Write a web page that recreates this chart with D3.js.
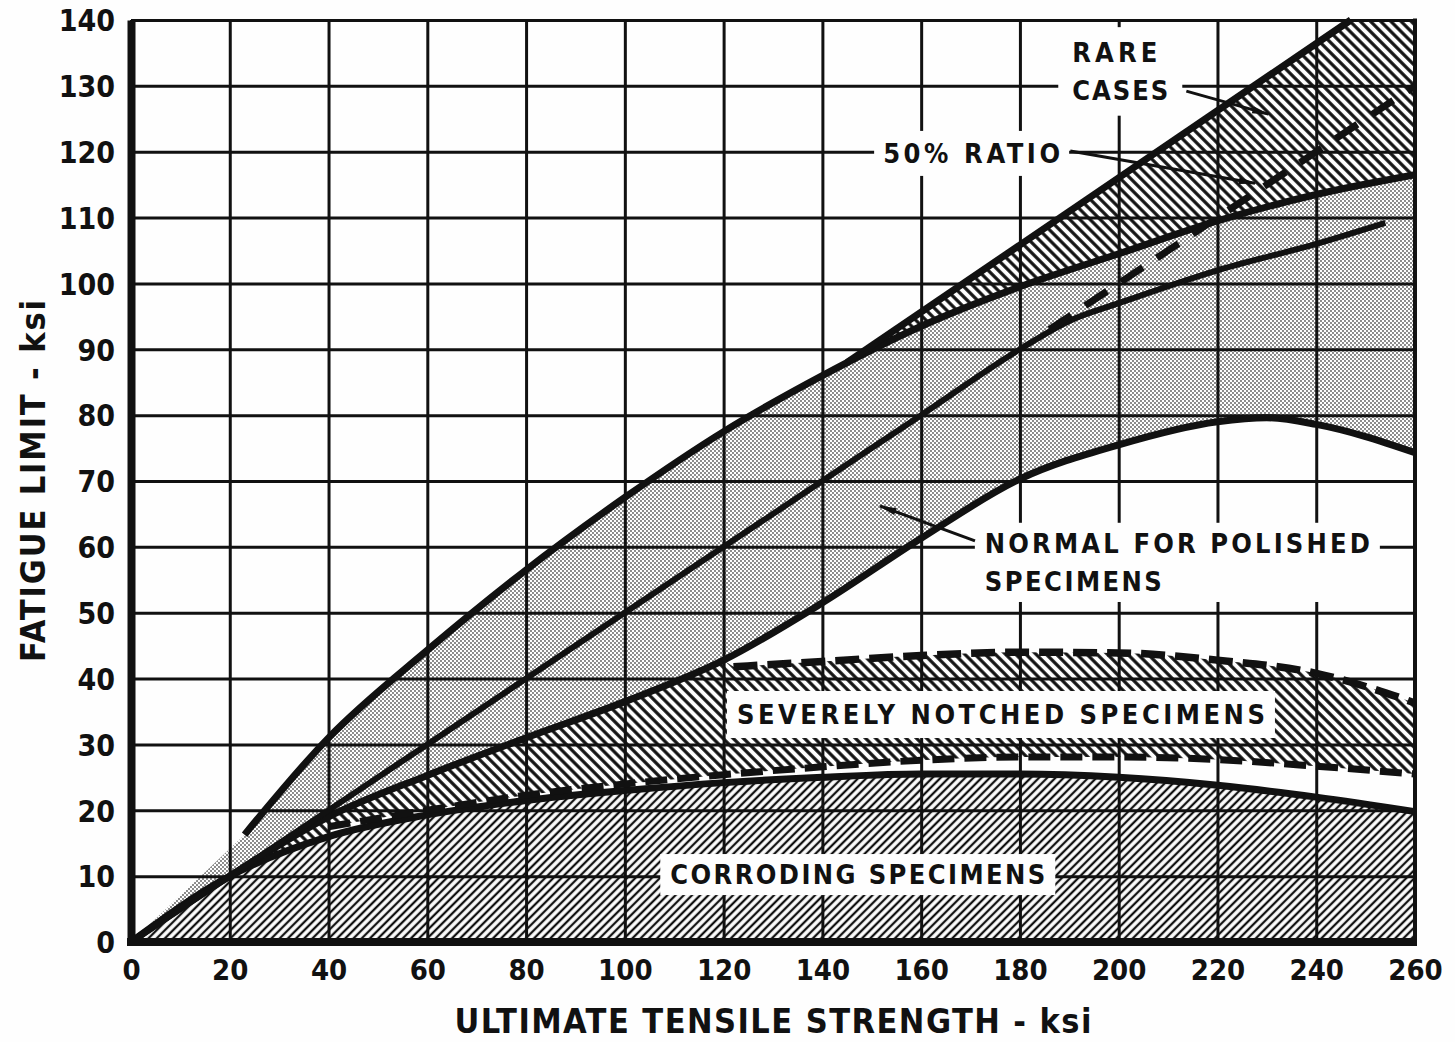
<!DOCTYPE html>
<html>
<head>
<meta charset="utf-8">
<script src="https://cdn.jsdelivr.net/npm/d3@7"></script>
<style>
  body { margin: 0; background: #fefefe; }
  svg { display: block; }
  text {
    font-family: "DejaVu Sans Condensed", "Liberation Sans Narrow", "DejaVu Sans", sans-serif;
    font-weight: bold;
    fill: #111;
  }
</style>
</head>
<body>
<div id="chart"></div>
<script>
// axis ticks (ksi)
const xTicks = [0, 20, 40, 60, 80, 100, 120, 140, 160, 180, 200, 220, 240, 260];
const yTicks = [0, 10, 20, 30, 40, 50, 60, 70, 80, 90, 100, 110, 120, 130, 140];

// curves: [ultimate tensile strength, fatigue limit]
const corroding = [[0, 0], [20, 10], [40, 16], [60, 19.3], [80, 21.5], [100, 23], [120, 24.2], [140, 25],
  [160, 25.5], [180, 25.5], [200, 25], [220, 23.8], [240, 22], [260, 19.8]];
const notchedLow = [[40, 17.5], [60, 20], [80, 22.3], [100, 24], [120, 25.4], [140, 26.6], [160, 27.6],
  [180, 28.1], [200, 28.1], [220, 27.7], [240, 26.7], [260, 25.5]];
const notchedHigh = [[122, 41.8], [140, 42.6], [160, 43.5], [180, 44], [200, 43.9], [220, 42.8],
  [240, 40.8], [250, 38.8], [260, 36.3]];
const polishedLow = [[0, 0], [20, 10], [40, 19], [60, 25.3], [80, 31], [100, 36.5], [120, 42.8], [140, 51.5],
  [160, 61.3], [180, 70.3], [200, 75.5], [220, 79], [230, 79.6], [240, 78.6], [260, 74.3]];
const polishedHigh = [[23, 16.3], [40, 31], [60, 44.3], [80, 56.5], [100, 67.5], [120, 77.5], [140, 86],
  [160, 93.5], [180, 99.5], [200, 104.5], [220, 109.5], [240, 113.5], [260, 116.5]];
const polishedMid = [[0, 0], [60, 30], [120, 60], [160, 80], [180, 90], [190, 94.3], [200, 97],
  [220, 102], [240, 106], [254, 109.2]];
const ratio50 = [[186, 93], [260, 130]];
const rareHigh = [[145, 88], [247, 140]];

// annotation text, in data units (left x, baseline y)
const notes = [
  { lines: [["RARE", 190.6, 133.6, 85], ["CASES", 190.6, 127.9, 96]], pad: [14, 10],
    leader: [[213.7, 129.2], [230.3, 125.7]] },
  { lines: [["50%  RATIO", 152.3, 118.3, 177]], pad: [9, 7],
    leader: [[190.2, 120.1], [227.6, 115.2]] },
  { lines: [["NORMAL FOR POLISHED", 172.9, 59.1, 385], ["SPECIMENS", 172.9, 53.3, 177]], pad: [10, 5],
    leader: [[170.9, 60.9], [151.7, 66.2]] },
  { lines: [["SEVERELY NOTCHED SPECIMENS", 122.7, 33.1, 528]], pad: [10, 8] },
  { lines: [["CORRODING SPECIMENS", 109.2, 8.8, 375]], pad: [10, 5] }
];

const width = 1455, height = 1042;
const x = d3.scaleLinear().domain([0, 260]).range([131, 1415]);
const y = d3.scaleLinear().domain([0, 140]).range([942, 20]);
const ink = "#111", paper = "#fefefe";

const svg = d3.select("#chart").append("svg")
  .attr("width", width)
  .attr("height", height);

svg.append("rect").attr("width", width).attr("height", height).attr("fill", paper);

const defs = svg.append("defs");

function hatch(id, angle, gap, w) {
  const p = defs.append("pattern")
    .attr("id", id)
    .attr("patternUnits", "userSpaceOnUse")
    .attr("width", gap).attr("height", gap)
    .attr("patternTransform", `rotate(${angle})`);
  p.append("rect").attr("width", gap).attr("height", gap).attr("fill", paper);
  p.append("line")
    .attr("x1", gap / 2).attr("x2", gap / 2)
    .attr("y1", -1).attr("y2", gap + 1)
    .attr("stroke", ink).attr("stroke-width", w);
}
hatch("hatchBack", -45, 7.2, 3.2);
hatch("hatchFwd", 45, 5.8, 2.3);

const dots = defs.append("pattern")
  .attr("id", "dots")
  .attr("patternUnits", "userSpaceOnUse")
  .attr("width", 4).attr("height", 4);
dots.append("rect").attr("width", 4).attr("height", 4).attr("fill", paper);
dots.append("circle").attr("cx", 1).attr("cy", 1).attr("r", 0.9).attr("fill", "#555");
dots.append("circle").attr("cx", 3).attr("cy", 3).attr("r", 0.9).attr("fill", "#555");

defs.append("marker")
  .attr("id", "arrow")
  .attr("viewBox", "0 0 10 10")
  .attr("refX", 9).attr("refY", 5)
  .attr("markerWidth", 18).attr("markerHeight", 18)
  .attr("markerUnits", "userSpaceOnUse")
  .attr("orient", "auto")
  .append("path").attr("d", "M0,3L10,5L0,7Z").attr("fill", ink);

const curve = d3.line().x(d => x(d[0])).y(d => y(d[1])).curve(d3.curveMonotoneX);
const straight = d3.line().x(d => x(d[0])).y(d => y(d[1]));
const cont = p => p.replace(/^M/, "L");
const rev = a => a.slice().reverse();

const [x0, x1] = x.domain();
const [y0, y1] = y.domain();

// corroding specimens: below the corroding curve
svg.append("path")
  .attr("d", curve(corroding) + `L${x(x1)},${y(y0)}Z`)
  .attr("fill", "url(#hatchFwd)");

// severely notched specimens
const lowEdge = polishedLow.filter(d => d[0] <= notchedHigh[0][0]);
const cornerC = corroding.filter(d => d[0] <= notchedLow[0][0]);
svg.append("path")
  .attr("d", curve(lowEdge) + cont(curve(notchedHigh)) + cont(curve(rev(notchedLow))) +
    cont(curve(rev(cornerC))) + "Z")
  .attr("fill", "url(#hatchBack)");

// rare cases, polished band is painted over its lower part
svg.append("path")
  .attr("d", straight(rareHigh) + `L${x(x1)},${y(y1)}` + cont(curve(rev(polishedHigh))) + "Z")
  .attr("fill", "url(#hatchBack)");

// normal for polished specimens
svg.append("path")
  .attr("d", `M${x(0)},${y(0)}` + cont(curve(polishedHigh)) + cont(curve(rev(polishedLow))) + "Z")
  .attr("fill", "url(#dots)");

// grid
svg.append("g")
  .attr("transform", `translate(0,${y(y0)})`)
  .call(d3.axisBottom(x).tickValues(xTicks).tickSize(-(y(y0) - y(y1))).tickFormat(""))
  .call(g => g.select(".domain").remove())
  .call(g => g.selectAll("line").attr("stroke", ink).attr("stroke-width", 3));

svg.append("g")
  .attr("transform", `translate(${x(x0)},0)`)
  .call(d3.axisLeft(y).tickValues(yTicks).tickSize(-(x(x1) - x(x0))).tickFormat(""))
  .call(g => g.select(".domain").remove())
  .call(g => g.selectAll("line").attr("stroke", ink).attr("stroke-width", 3));

svg.append("line")
  .attr("x1", x(x1)).attr("x2", x(x1)).attr("y1", y(y1) - 1.5).attr("y2", y(y0))
  .attr("stroke", ink).attr("stroke-width", 4);

// curves
function draw(d, w, dash) {
  svg.append("path")
    .attr("d", d)
    .attr("fill", "none")
    .attr("stroke", ink)
    .attr("stroke-width", w)
    .attr("stroke-dasharray", dash || null)
    .attr("stroke-linecap", "butt");
}
draw(curve(corroding), 7);
draw(curve(polishedLow), 7);
draw(curve(polishedMid), 6);
draw(curve(polishedHigh), 7);
draw(straight(rareHigh), 7);
draw(straight(ratio50), 7, "26 17");
draw(curve(notchedHigh), 7.5, "24 10");
draw(curve(notchedLow), 7, "22 10");

// axes
svg.append("g")
  .attr("transform", `translate(${x(x0)},0)`)
  .call(d3.axisLeft(y).tickValues(yTicks).tickSize(0).tickPadding(16).tickSizeOuter(0))
  .call(g => g.attr("font-size", null).attr("font-family", null))
  .call(g => g.select(".domain").attr("stroke", ink).attr("stroke-width", 8))
  .call(g => g.selectAll("text").style("font-size", "30px").attr("dy", "0.36em"));

svg.append("g")
  .attr("transform", `translate(0,${y(y0)})`)
  .call(d3.axisBottom(x).tickValues(xTicks).tickSize(0).tickPadding(17).tickSizeOuter(0))
  .call(g => g.attr("font-size", null).attr("font-family", null))
  .call(g => g.select(".domain").attr("stroke", ink).attr("stroke-width", 8)
    .attr("d", `M${x(x0) - 4},0H${x(x1) + 2}`))
  .call(g => g.selectAll("text").style("font-size", "29px"));

svg.append("text")
  .attr("x", (x(x0) + x(x1)) / 2)
  .attr("y", 1033)
  .attr("text-anchor", "middle")
  .attr("textLength", 637)
  .style("font-size", "34px")
  .text("ULTIMATE TENSILE STRENGTH - ksi");

svg.append("text")
  .attr("transform", `translate(45,${(y(y0) + y(y1)) / 2}) rotate(-90)`)
  .attr("text-anchor", "middle")
  .attr("textLength", 362)
  .style("font-size", "34px")
  .text("FATIGUE LIMIT - ksi");

// annotations
notes.forEach(n => {
  const g = svg.append("g");
  const box = g.append("rect").attr("fill", paper);
  n.lines.forEach(([t, lx, ly, len]) => {
    g.append("text")
      .attr("x", x(lx))
      .attr("y", y(ly))
      .attr("textLength", len)
      .style("font-size", "27px")
      .text(t);
  });
  const b = g.node().getBBox();
  box.attr("x", b.x - n.pad[0]).attr("y", b.y - n.pad[1])
    .attr("width", b.width + 2 * n.pad[0]).attr("height", b.height + 2 * n.pad[1]);
  if (n.leader) {
    svg.append("path")
      .attr("d", straight(n.leader))
      .attr("stroke", ink)
      .attr("stroke-width", 3)
      .attr("fill", "none")
      .attr("marker-end", "url(#arrow)");
  }
});
</script>
</body>
</html>
